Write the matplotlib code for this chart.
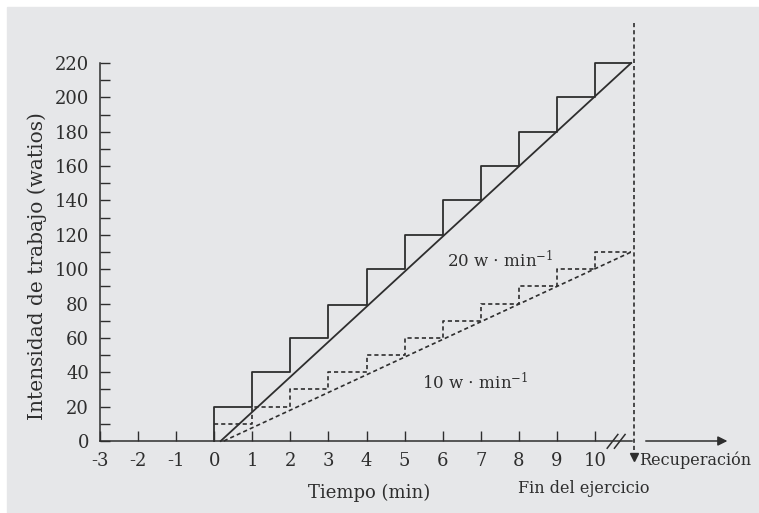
import numpy as np
import matplotlib
matplotlib.use("Agg")
import matplotlib.pyplot as plt

# datos
x_ticks = list(range(-3, 11))
y_ticks = list(range(0, 221, 20))
escalon_x = [0, 0, 1, 2, 3, 4, 5, 6, 7, 8, 9, 10, 10.95]
escalon_20 = [0, 20, 40, 60, 79, 100, 120, 140, 160, 180, 200, 220, 220]
escalon_10 = [0, 10, 20, 30, 40, 50, 60, 70, 80, 90, 100, 110, 110]
rampa_x = [0.17, 10.95]
rampa_20 = [0, 220]
rampa_10_x = [0.25, 10.95]
rampa_10 = [0, 110]
fin_x = 11.02

plt.rcParams['font.family'] = ['DejaVu Serif']
plt.rcParams['mathtext.fontset'] = 'dejavuserif'
plt.rcParams['axes.unicode_minus'] = False

W, H = 759, 513
fig = plt.figure(figsize=(W / 100, H / 100), dpi=100)
fig.patch.set_facecolor('white')
fondo = '#e6e7e9'
tinta = '#2e2e2e'
fig.patches.append(plt.Rectangle((7 / W, 0), 1 - 7 / W, 1 - 7 / H,
                                 transform=fig.transFigure, color=fondo, zorder=-5))

# px: x=-3 -> 100, 38.08 px por minuto; y=0 -> 441, 1.718 px por vatio
px_x, x0 = 38.08, 214.2
px_y, y0 = 378 / 220, 441
left, right = 100, 759
bottom, top = 513, 7
ax = fig.add_axes([left / W, 1 - bottom / H, (right - left) / W, (bottom - top) / H])
ax.set_xlim((left - x0) / px_x, (right - x0) / px_x)
ax.set_ylim((y0 - bottom) / px_y, (y0 - top) / px_y)
ax.set_facecolor('none')

for s in ['top', 'right']:
    ax.spines[s].set_visible(False)
ax.spines['left'].set_bounds(0, 220)
ax.spines['left'].set_position(('data', ax.get_xlim()[0]))
ax.spines['bottom'].set_position(('data', 0))
ax.spines['bottom'].set_bounds(ax.get_xlim()[0], 10.97)
for s in ['left', 'bottom']:
    ax.spines[s].set_color(tinta)
    ax.spines[s].set_linewidth(1.1)

ax.set_xticks(x_ticks)
ax.set_xticklabels([str(v) for v in x_ticks])
ax.set_yticks(y_ticks)
ax.set_yticks(list(range(10, 220, 20)), minor=True)
ax.tick_params(axis='both', which='both', direction='in', length=7.5, width=1,
               color=tinta, labelcolor=tinta, labelsize=13)
ax.tick_params(axis='y', pad=8)
ax.tick_params(axis='x', pad=8)

# escalones y rampas
ax.step(escalon_x, escalon_20, where='post', color=tinta, lw=1.3)
ax.plot(rampa_x, rampa_20, color=tinta, lw=1.3)
ax.step(escalon_x[1:], escalon_10[1:], where='post', color=tinta, lw=1.2,
        linestyle=(0, (2.5, 1.8)))
ax.plot(rampa_10_x, rampa_10, color=tinta, lw=1.2, linestyle=(0, (2.5, 1.8)))

# fin del ejercicio
ax.plot([fin_x, fin_x], [243.5, -7], color=tinta, lw=1.2, linestyle=(0, (2.5, 1.8)),
        clip_on=False)
ax.plot([fin_x], [-9.5], marker='v', color=tinta, markersize=6, clip_on=False)

# corte del eje
for dx in [0, 0.19]:
    ax.plot([10.32 + dx, 10.6 + dx], [-4.2, 3.8], color=tinta, lw=1.1, clip_on=False)

# recuperacion
ax.annotate('', xy=(13.55, 0), xytext=(11.26, 0),
            arrowprops=dict(arrowstyle='-|>', color=tinta, lw=1.1, mutation_scale=14))

ax.text(6.11, 105, r'20 w $\cdot$ min$^{\mathrm{-1}}$', fontsize=12, color=tinta,
        ha='left', va='center')
ax.text(5.46, 34, r'10 w $\cdot$ min$^{\mathrm{-1}}$', fontsize=12, color=tinta,
        ha='left', va='center')
ax.text(4.07, -30.3, 'Tiempo (min)', fontsize=13, color=tinta, ha='center', va='center')
ax.text(9.71, -27.4, 'Fin del ejercicio', fontsize=11.5, color=tinta, ha='center', va='center')
ax.text(11.16, -11, 'Recuperación', fontsize=11.5, color=tinta, ha='left', va='center')
fig.text(37 / W, 1 - 266 / H, 'Intensidad de trabajo (watios)', fontsize=14.5, color=tinta,
         rotation=90, ha='center', va='center')

fig.savefig('out.png', dpi=100, facecolor='white')
